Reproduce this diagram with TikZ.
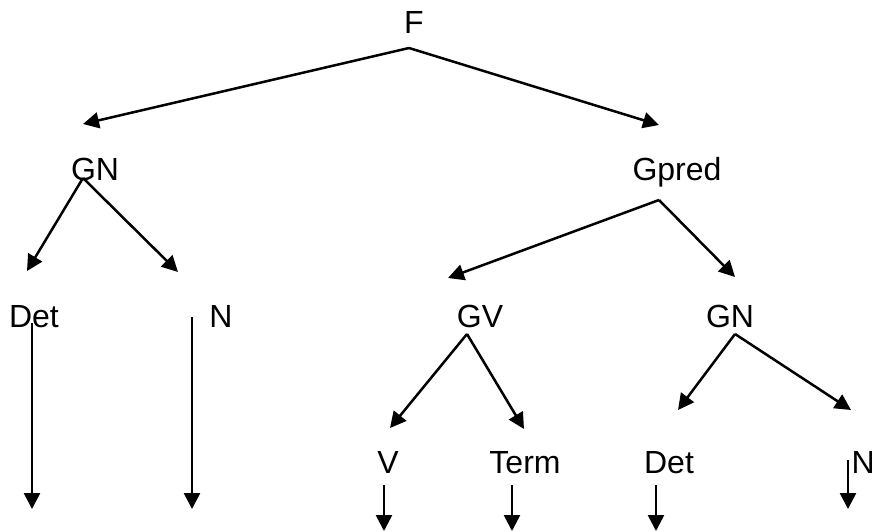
\documentclass[tikz,border=0pt]{standalone}
\usepackage{fontspec}
\setmainfont{Liberation Sans}
\usetikzlibrary{arrows.meta}
\begin{document}
\begin{tikzpicture}[x=1pt,y=-1pt,
  lbl/.style={anchor=base,inner sep=0pt,font=\fontsize{32}{38}\selectfont},
  conn/.style={line width=2.5pt,-{Triangle[length=16pt,width=16pt]}}]
\useasboundingbox (0,0) rectangle (872,531);
% labels
\node[lbl] (F) at (414,33) {F};
\node[lbl] (GN1) at (95,180) {GN};
\node[lbl] (Gpred) at (677,180) {Gpred};
\node[lbl] (Det1) at (34,327) {Det};
\node[lbl] (N1) at (221,327) {N};
\node[lbl] (GV) at (480,327) {GV};
\node[lbl] (GN2) at (730,327) {GN};
\node[lbl] (V) at (388,473) {V};
\node[lbl] (Term) at (525,473) {Term};
\node[lbl] (Det2) at (669,473) {Det};
\node[lbl,anchor=base west] (N2) at (851.5,473) {N};
% connector points
\coordinate (F-out) at (409,48);
\coordinate (GN1-in) at (83,124);
\coordinate (Gpred-in) at (659,125);
\coordinate (GN1-out) at (83,178);
\coordinate (Det1-in) at (27,271);
\coordinate (N1-in) at (178,272);
\coordinate (Det1-out) at (32,323);
\coordinate (Det1-end) at (32,509);
\coordinate (N1-out) at (192,317);
\coordinate (N1-end) at (192,509);
\coordinate (Gpred-out) at (659,200);
\coordinate (GV-in) at (448,278);
\coordinate (GN2-in) at (735,277);
\coordinate (GV-out) at (467,334);
\coordinate (V-in) at (390,428);
\coordinate (Term-in) at (524,429);
\coordinate (GN2-out) at (735,334);
\coordinate (Det2-in) at (678,410);
\coordinate (N2-in) at (851,410);
\coordinate (V-out) at (384,485);
\coordinate (V-end) at (384,531);
\coordinate (Term-out) at (512,485);
\coordinate (Term-end) at (512,531);
\coordinate (Det2-out) at (656,485);
\coordinate (Det2-end) at (656,531);
\coordinate (N2-out) at (848,460);
\coordinate (N2-end) at (848,509);
% connectors
\draw[conn] (F-out) -- (GN1-in);
\draw[conn] (F-out) -- (Gpred-in);
\draw[conn] (GN1-out) -- (Det1-in);
\draw[conn] (GN1-out) -- (N1-in);
\draw[conn] (Det1-out) -- (Det1-end);
\draw[conn] (N1-out) -- (N1-end);
\draw[conn] (Gpred-out) -- (GV-in);
\draw[conn] (Gpred-out) -- (GN2-in);
\draw[conn] (GV-out) -- (V-in);
\draw[conn] (GV-out) -- (Term-in);
\draw[conn] (GN2-out) -- (Det2-in);
\draw[conn] (GN2-out) -- (N2-in);
\draw[conn] (V-out) -- (V-end);
\draw[conn] (Term-out) -- (Term-end);
\draw[conn] (Det2-out) -- (Det2-end);
\draw[conn] (N2-out) -- (N2-end);
\end{tikzpicture}
\end{document}
